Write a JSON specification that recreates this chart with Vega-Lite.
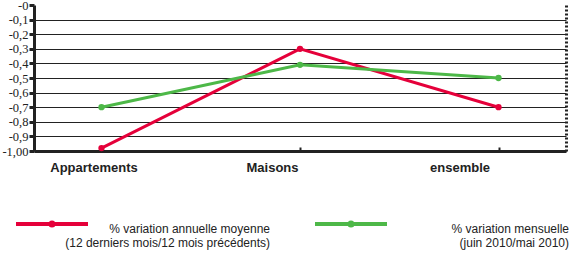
{
  "$schema": "https://vega.github.io/schema/vega-lite/v6.json",
  "width": 532,
  "height": 146,
  "autosize": {"type": "none"},
  "padding": {"left": 34, "top": 5, "right": 5, "bottom": 102},
  "background": "white",
  "config": {"view": {"stroke": null}},
  "data": {
    "values": [
      {"cat": "Appartements", "serie": "annuelle", "value": -0.98},
      {"cat": "Maisons", "serie": "annuelle", "value": -0.3},
      {"cat": "ensemble", "serie": "annuelle", "value": -0.7},
      {"cat": "Appartements", "serie": "mensuelle", "value": -0.7},
      {"cat": "Maisons", "serie": "mensuelle", "value": -0.41},
      {"cat": "ensemble", "serie": "mensuelle", "value": -0.5}
    ]
  },
  "encoding": {
    "x": {
      "field": "cat",
      "type": "nominal",
      "sort": null,
      "scale": {"type": "point", "padding": 0.34},
      "axis": {
        "title": null,
        "labelAngle": 0,
        "labelFont": "Liberation Sans",
        "labelFontWeight": "bold",
        "labelFontSize": 13,
        "labelColor": "#222",
        "labelPadding": 14,
        "labelOffset": {"condition": [{"test": "datum.value == 'Maisons'", "value": -28}, {"test": "datum.value == 'ensemble'", "value": -39}], "value": -8},
        "domainColor": "#222",
        "domainWidth": 3,
        "tickColor": "#222",
        "tickWidth": 2,
        "tickSize": -4,
        "grid": false
      }
    },
    "y": {
      "field": "value",
      "type": "quantitative",
      "scale": {"domain": [-1, 0], "nice": false, "zero": false}
    },
    "color": {
      "field": "serie",
      "type": "nominal",
      "scale": {"domain": ["annuelle", "mensuelle"], "range": ["#e5003a", "#4db848"]},
      "legend": {
        "title": null,
        "orient": "none",
        "legendX": -20,
        "legendY": 181,
        "direction": "horizontal",
        "columns": 2,
        "columnPadding": 37,
        "symbolType": "M-1,0H1M-0.042,0A0.042,0.042,0,1,1,0.042,0A0.042,0.042,0,1,1,-0.042,0",
        "symbolSize": 5184,
        "symbolStrokeWidth": 4,
        "symbolOpacity": 1,
        "labelAlign": "right",
        "labelOffset": 180,
        "labelLimit": 400,
        "labelFont": "Liberation Sans",
        "labelFontSize": 12,
        "labelColor": "#222",
        "labelBaseline": "top",
        "labelLineHeight": 17,
        "labelExpr": "datum.label == 'annuelle' ? ['% variation annuelle moyenne', '(12 derniers mois/12 mois précédents)'] : ['% variation mensuelle', '(juin 2010/mai 2010)']"
      }
    }
  },
  "layer": [
    {
      "mark": {"type": "line", "strokeWidth": 3},
      "encoding": {
        "y": {
          "field": "value",
          "type": "quantitative",
          "scale": {"domain": [-1, 0], "nice": false, "zero": false},
          "axis": {
            "title": null,
            "orient": "left",
            "values": [0, -0.1, -0.2, -0.3, -0.4, -0.5, -0.6, -0.7, -0.8, -0.9, -1],
            "labelExpr": "datum.value == 0 ? '-0' : (datum.value <= -0.999 ? '-1,00' : '-0,' + round(-datum.value * 10))",
            "labelFont": "Liberation Sans Narrow",
            "labelFontSize": 12.5,
            "labelColor": "#222",
            "labelPadding": 1,
            "domainColor": "#222",
            "domainWidth": 3,
            "tickColor": "#222",
            "tickWidth": 3,
            "tickSize": 5,
            "grid": true,
            "gridColor": "#222",
            "gridWidth": 1.2,
            "gridOpacity": {"condition": {"test": "datum.value == 0", "value": 0}, "value": 1}
          }
        }
      }
    },
    {
      "mark": {"type": "point", "filled": true, "size": 40, "opacity": 1},
      "encoding": {
        "y": {
          "field": "value",
          "type": "quantitative",
          "scale": {"domain": [-1, 0], "nice": false, "zero": false},
          "axis": {
            "title": null,
            "orient": "right",
            "labels": false,
            "ticks": false,
            "grid": false,
            "domainColor": "#222",
            "domainWidth": 3,
            "domainDash": [2, 2]
          }
        }
      }
    }
  ],
  "resolve": {"axis": {"y": "independent"}}
}
